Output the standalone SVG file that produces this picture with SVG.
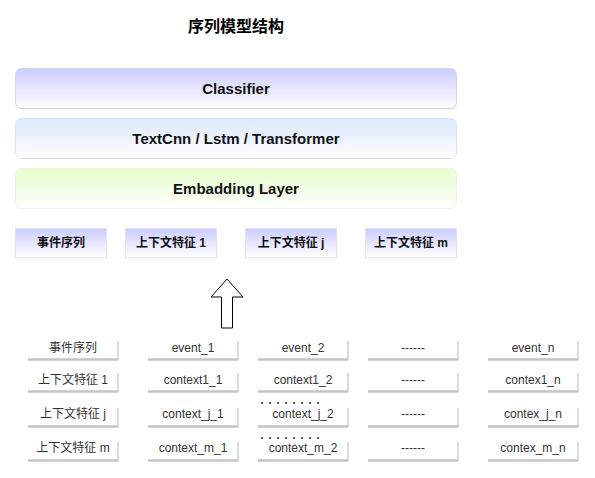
<svg xmlns="http://www.w3.org/2000/svg" width="595" height="478" viewBox="0 0 595 478">
<defs>
<linearGradient id="gPurple" x1="0" y1="0" x2="0" y2="1"><stop offset="0" stop-color="#ccccff"/><stop offset="1" stop-color="#ffffff"/></linearGradient>
<linearGradient id="gBlue" x1="0" y1="0" x2="0" y2="1"><stop offset="0" stop-color="#dae8fc"/><stop offset="1" stop-color="#ffffff"/></linearGradient>
<linearGradient id="gGreen" x1="0" y1="0" x2="0" y2="1"><stop offset="0" stop-color="#e6ffcc"/><stop offset="1" stop-color="#ffffff"/></linearGradient>
<style>
text{font-family:"Liberation Sans","Noto Sans CJK SC",Arial,sans-serif;text-anchor:middle;dominant-baseline:central}
.title{font-size:16px;font-weight:bold;fill:#000}
.big{font-size:15px;font-weight:bold;fill:#111}
.lbl{font-size:12px;font-weight:bold;fill:#111}
.cell{font-size:12px;fill:#333}
.layer{stroke-width:1}
.feat{fill:url(#gPurple);stroke:#e2e2f2;stroke-width:1}
.sh{fill:none;stroke:#c4c4c4}
.cb{fill:#fff;stroke:none}
.dots{stroke:#333;stroke-width:2;stroke-dasharray:0.1 7.9;stroke-linecap:round}
</style>
</defs>
<rect width="595" height="478" fill="#fff"/>
<text class="title" x="236" y="26">序列模型结构</text>

<g id="classifier"><rect class="layer" x="15.5" y="68.5" width="441" height="40" rx="6" fill="url(#gPurple)" stroke="#d2d2ea"/><text class="big" x="236" y="88.5">Classifier</text></g>
<g id="encoder"><rect class="layer" x="15.5" y="118.5" width="441" height="40" rx="6" fill="url(#gBlue)" stroke="#d8e4f4"/><text class="big" x="236" y="138.5">TextCnn / Lstm / Transformer</text></g>
<g id="embedding"><rect class="layer" x="15.5" y="168.5" width="441" height="40" rx="6" fill="url(#gGreen)" stroke="#eef5e6"/><text class="big" x="236" y="188.5">Embadding Layer</text></g>

<g id="f-event"><rect class="feat" x="15.5" y="228.5" width="91" height="29"/><text class="lbl" x="61" y="242.5">事件序列</text></g>
<g id="f-ctx1"><rect class="feat" x="125.5" y="228.5" width="91" height="29"/><text class="lbl" x="171" y="242.5">上下文特征 1</text></g>
<g id="f-ctxj"><rect class="feat" x="245.5" y="228.5" width="91" height="29"/><text class="lbl" x="291" y="242.5">上下文特征 j</text></g>
<g id="f-ctxm"><rect class="feat" x="365.5" y="228.5" width="91" height="29"/><text class="lbl" x="411" y="242.5">上下文特征 m</text></g>

<g id="connectors">
<polygon points="227,279 243,297 232.5,297 232.5,328 221.5,328 221.5,297 211,297" fill="#fff" stroke="#000" stroke-width="1"/>
</g>

<g id="grid">
<g id="r1">
<g id="c1-1"><rect class="cb" x="28" y="340" width="90" height="19"/><path class="sh" d="M118,341 V360" stroke-width="1.2"/><path class="sh" d="M28,359.5 H118" stroke-width="2.5"/><text class="cell" x="73" y="348">事件序列</text></g>
<g id="c1-2"><path class="sh" d="M238,341 V360" stroke-width="1.2"/><path class="sh" d="M148,359.5 H238" stroke-width="2.5"/><text class="cell" x="193" y="348">event_1</text></g>
<g id="c1-3"><path class="sh" d="M348,341 V360" stroke-width="1.2"/><path class="sh" d="M258,359.5 H348" stroke-width="2.5"/><text class="cell" x="303" y="348">event_2</text></g>
<g id="c1-4"><path class="sh" d="M458,341 V360" stroke-width="1.2"/><path class="sh" d="M368,359.5 H458" stroke-width="2.5"/><text class="cell" x="413" y="348">------</text></g>
<g id="c1-5"><path class="sh" d="M578,341 V360" stroke-width="1.2"/><path class="sh" d="M488,359.5 H578" stroke-width="2.5"/><text class="cell" x="533" y="348">event_n</text></g>
</g>
<g id="r2">
<g id="c2-1"><path class="sh" d="M118,373 V392" stroke-width="1.2"/><path class="sh" d="M28,391.5 H118" stroke-width="2.5"/><text class="cell" x="73" y="380">上下文特征 1</text></g>
<g id="c2-2"><path class="sh" d="M238,373 V392" stroke-width="1.2"/><path class="sh" d="M148,391.5 H238" stroke-width="2.5"/><text class="cell" x="193" y="380">context1_1</text></g>
<g id="c2-3"><path class="sh" d="M348,373 V392" stroke-width="1.2"/><path class="sh" d="M258,391.5 H348" stroke-width="2.5"/><text class="cell" x="303" y="380">context1_2</text></g>
<g id="c2-4"><path class="sh" d="M458,373 V392" stroke-width="1.2"/><path class="sh" d="M368,391.5 H458" stroke-width="2.5"/><text class="cell" x="413" y="380">------</text></g>
<g id="c2-5"><path class="sh" d="M578,373 V392" stroke-width="1.2"/><path class="sh" d="M488,391.5 H578" stroke-width="2.5"/><text class="cell" x="533" y="380">contex1_n</text></g>
</g>
<g id="r3">
<g id="c3-1"><path class="sh" d="M118,408 V427" stroke-width="1.2"/><path class="sh" d="M28,426.5 H118" stroke-width="2.5"/><text class="cell" x="73" y="414">上下文特征 j</text></g>
<g id="c3-2"><path class="sh" d="M238,408 V427" stroke-width="1.2"/><path class="sh" d="M148,426.5 H238" stroke-width="2.5"/><text class="cell" x="193" y="414">context_j_1</text></g>
<g id="c3-3"><path class="sh" d="M348,408 V427" stroke-width="1.2"/><path class="sh" d="M258,426.5 H348" stroke-width="2.5"/><path class="dots" d="M262,403 H322"/><text class="cell" x="303" y="414">context_j_2</text></g>
<g id="c3-4"><path class="sh" d="M458,408 V427" stroke-width="1.2"/><path class="sh" d="M368,426.5 H458" stroke-width="2.5"/><text class="cell" x="413" y="414">------</text></g>
<g id="c3-5"><path class="sh" d="M578,408 V427" stroke-width="1.2"/><path class="sh" d="M488,426.5 H578" stroke-width="2.5"/><text class="cell" x="533" y="414">contex_j_n</text></g>
</g>
<g id="r4">
<g id="c4-1"><path class="sh" d="M118,442 V461" stroke-width="1.2"/><path class="sh" d="M28,460.5 H118" stroke-width="2.5"/><text class="cell" x="73" y="448">上下文特征 m</text></g>
<g id="c4-2"><path class="sh" d="M238,442 V461" stroke-width="1.2"/><path class="sh" d="M148,460.5 H238" stroke-width="2.5"/><text class="cell" x="193" y="448">context_m_1</text></g>
<g id="c4-3"><path class="sh" d="M348,442 V461" stroke-width="1.2"/><path class="sh" d="M258,460.5 H348" stroke-width="2.5"/><path class="dots" d="M262,438 H322"/><text class="cell" x="303" y="448">context_m_2</text></g>
<g id="c4-4"><path class="sh" d="M458,442 V461" stroke-width="1.2"/><path class="sh" d="M368,460.5 H458" stroke-width="2.5"/><text class="cell" x="413" y="448">------</text></g>
<g id="c4-5"><path class="sh" d="M578,442 V461" stroke-width="1.2"/><path class="sh" d="M488,460.5 H578" stroke-width="2.5"/><text class="cell" x="533" y="448">contex_m_n</text></g>
</g>
</g>
</svg>
